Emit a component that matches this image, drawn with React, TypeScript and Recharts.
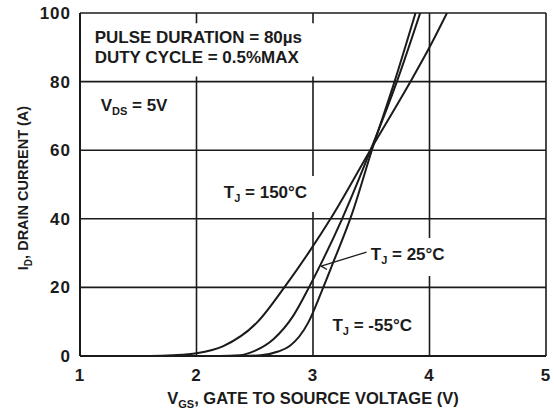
import React from "react";
import {
  LineChart,
  Line,
  XAxis,
  YAxis,
  CartesianGrid,
  ReferenceArea,
  ReferenceLine,
} from "recharts";

// gate voltage (V) / drain current (A)
const vgsHot = [1.0, 1.6, 1.8, 2.0, 2.23, 2.52, 2.76, 2.97, 3.16, 3.5, 3.82, 4.0, 4.15];
const idHot = [0, 0, 0.2, 0.8, 2.9, 9.8, 20.3, 30.5, 40.5, 60.5, 79, 90, 100];

const vgsRoom = [1.0, 2.2, 2.37, 2.5, 2.66, 2.83, 2.97, 3.07, 3.25, 3.5, 3.72, 3.92];
const idRoom = [0, 0, 0.2, 1.5, 4.9, 11.7, 20.3, 27, 40, 60.5, 80, 100];

const vgsCold = [1.0, 2.4, 2.55, 2.7, 2.8, 2.96, 3.07, 3.17, 3.33, 3.51, 3.7, 3.88];
const idCold = [0, 0, 0.2, 1.3, 2.9, 9.8, 18.5, 27, 41, 60.5, 80, 100];

const xTicks = [1, 2, 3, 4, 5];
const yTicks = [0, 20, 40, 60, 80, 100];

const toRows = (vs: number[], is: number[]) => vs.map((v, i) => ({ vgs: v, id: is[i] }));

const FONT = "'Liberation Sans', Arial, sans-serif";
const INK = "#1b1b1b";

const txt = {
  fontFamily: FONT,
  fontSize: 17,
  fontWeight: 700,
  fill: INK,
} as const;

const tickTxt = { ...txt, letterSpacing: 1 };

// text placed relative to the top-left corner of a reference area
const boxText = (lines: React.ReactNode[], dx: number, dy: number, gap = 20) =>
  (props: any) => {
    const { x, y } = props.viewBox;
    return (
      <g>
        {lines.map((l, i) => (
          <text key={i} x={x + dx} y={y + dy + i * gap} {...txt}>
            {l}
          </text>
        ))}
      </g>
    );
  };

const sub = (main: string, s: string, rest: string, size = 11) => (
  <>
    {main}
    <tspan dy={4} fontSize={size}>{s}</tspan>
    <tspan dy={-4}>{rest}</tspan>
  </>
);

const XTitle = (props: any) => {
  const { x, y, width } = props.viewBox;
  return (
    <text x={x + width / 2} y={y + 48} textAnchor="middle" {...txt} fontSize={16.5}>
      {sub("V", "GS", ", GATE TO SOURCE VOLTAGE (V)")}
    </text>
  );
};

const YTitle = () => {
  const cx = 28;
  const cy = 188;
  return (
    <text
      x={cx}
      y={cy}
      textAnchor="middle"
      transform={`rotate(-90 ${cx} ${cy})`}
      {...txt}
      fontSize={14.5}
    >
      {sub("I", "D", ", DRAIN CURRENT (A)", 10)}
    </text>
  );
};

export default function App() {
  return (
    <div style={{ position: "absolute", left: 0, top: 0, background: "#fff" }}>
      <LineChart width={554} height={412} margin={{ top: 13, right: 8, bottom: 0, left: 0 }}>
        <CartesianGrid stroke={INK} strokeWidth={1.6} />
        <XAxis
          dataKey="vgs"
          type="number"
          domain={[1, 5]}
          ticks={xTicks}
          height={56}
          tickLine={false}
          tickSize={0}
          tickMargin={13}
          axisLine={{ stroke: INK, strokeWidth: 2 }}
          tick={tickTxt}
          allowDuplicatedCategory={false}
          label={{ content: XTitle }}
        />
        <YAxis
          dataKey="id"
          type="number"
          domain={[0, 100]}
          ticks={yTicks}
          width={80}
          tickLine={false}
          tickSize={0}
          tickMargin={9}
          axisLine={{ stroke: INK, strokeWidth: 2 }}
          tick={tickTxt}
          allowDataOverflow
          label={{ content: YTitle }}
        />

        <ReferenceArea
          x1={1.04}
          x2={3.1}
          y1={81.5}
          y2={97}
          fill="#fff"
          fillOpacity={1}
          stroke="none"
          label={{
            content: boxText(["PULSE DURATION = 80µs", "DUTY CYCLE = 0.5%MAX"], 10, 20),
          }}
        />
        <ReferenceArea
          x1={1.1}
          x2={1.8}
          y1={68}
          y2={78}
          fill="none"
          stroke="none"
          label={{ content: boxText([sub("V", "DS", " = 5V")], 9, 23) }}
        />
        <ReferenceArea
          x1={2.2}
          x2={3.05}
          y1={42}
          y2={52.5}
          fill="#fff"
          fillOpacity={1}
          stroke="none"
          label={{ content: boxText([sub("T", "J", " = 150°C")], 4, 22) }}
        />
        <ReferenceArea
          x1={3.47}
          x2={4.19}
          y1={23.3}
          y2={34.4}
          fill="#fff"
          fillOpacity={1}
          stroke="none"
          label={{ content: boxText([sub("T", "J", " = 25°C")], 3, 22) }}
        />
        <ReferenceArea
          x1={3.15}
          x2={3.95}
          y1={6}
          y2={12.8}
          fill="none"
          stroke="none"
          label={{ content: boxText([sub("T", "J", " = -55°C")], 2, 19) }}
        />

        <ReferenceLine
          segment={[
            { x: 3.46, y: 30.3 },
            { x: 3.07, y: 26.2 },
          ]}
          stroke={INK}
          strokeWidth={1.3}
        />
        <ReferenceLine
          segment={[
            { x: 3.07, y: 26.2 },
            { x: 3.12, y: 25.2 },
          ]}
          stroke={INK}
          strokeWidth={1.3}
        />

        <Line
          data={toRows(vgsHot, idHot)}
          dataKey="id"
          type="monotone"
          stroke={INK}
          strokeWidth={2}
          dot={false}
          isAnimationActive={false}
        />
        <Line
          data={toRows(vgsRoom, idRoom)}
          dataKey="id"
          type="monotone"
          stroke={INK}
          strokeWidth={2}
          dot={false}
          isAnimationActive={false}
        />
        <Line
          data={toRows(vgsCold, idCold)}
          dataKey="id"
          type="monotone"
          stroke={INK}
          strokeWidth={2}
          dot={false}
          isAnimationActive={false}
        />
      </LineChart>
    </div>
  );
}
